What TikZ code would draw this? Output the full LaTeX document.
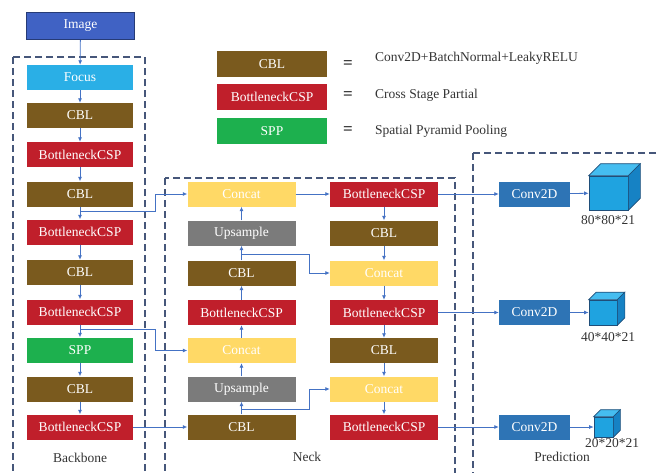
\documentclass[tikz,border=0pt]{standalone}
\usepackage{fontspec}
\setmainfont{Liberation Serif}
\usetikzlibrary{arrows.meta}
\definecolor{cblbrown}{HTML}{7A5A1E}
\definecolor{cspred}{HTML}{C01F2B}
\definecolor{sppgreen}{HTML}{1DB04E}
\definecolor{focusblue}{HTML}{2AAFE6}
\definecolor{imgblue}{HTML}{4062C4}
\definecolor{catyellow}{HTML}{FFD966}
\definecolor{upgray}{HTML}{7B7B7B}
\definecolor{convblue}{HTML}{2E74B5}
\definecolor{lineblue}{HTML}{4472C4}
\definecolor{dashgray}{HTML}{46577A}
\definecolor{cubefront}{HTML}{1FA3E0}
\definecolor{cubetop}{HTML}{45BDF0}
\definecolor{cubeside}{HTML}{1682C4}
\definecolor{cubeedge}{HTML}{1F4E79}
% top and side faces of a cube whose front face is node #1
\newcommand{\cubefaces}[2]{
  \filldraw[fill=cubetop, draw=cubeedge, line width=0.6pt] (#1.north west) -- ++(#2,-#2) -- ([shift={(#2,-#2)}]#1.north east) -- (#1.north east) -- cycle;
  \filldraw[fill=cubeside, draw=cubeedge, line width=0.6pt] (#1.north east) -- ([shift={(#2,-#2)}]#1.north east) -- ([shift={(#2,-#2)}]#1.south east) -- (#1.south east) -- cycle;
}

\begin{document}
\begin{tikzpicture}[x=1pt, y=-1pt,
    box/.style={minimum width=106pt, minimum height=25pt, inner sep=0pt, text=white, font=\fontsize{13.5}{15}\selectfont},
    cblbox/.style={box, fill=cblbrown},
    cspbox/.style={box, fill=cspred},
    sppbox/.style={box, fill=sppgreen},
    catbox/.style={box, fill=catyellow, minimum width=108pt},
    upbox/.style={box, fill=upgray, minimum width=108pt},
    convbox/.style={box, fill=convblue, minimum width=71pt},
    cubebox/.style={draw=cubeedge, fill=cubefront, line width=0.6pt, inner sep=0pt},
    lbl/.style={text=black!80, font=\fontsize{13.5}{15}\selectfont, inner sep=0pt},
    eqsign/.style={text=black!80, font=\fontsize{17}{18}\selectfont\bfseries, inner sep=0pt},
    arr/.style={draw=lineblue, line width=0.8pt, -{Latex[length=4.5pt,width=4pt]}},
    frame/.style={draw=dashgray, line width=1.3pt, dash pattern=on 7pt off 4pt}]
    \useasboundingbox (0,0) rectangle (659,472);
    % dashed frames
    \draw[frame] (13,57) rectangle (145,495);
    \draw[frame] (165,178) rectangle (455,495);
    \draw[frame] (473,153) rectangle (690,495);
    \node[lbl] (bbname) at (80,458) {Backbone};
    \node[lbl] (neckname) at (307,457) {Neck};
    \node[lbl] (predname) at (562,457) {Prediction};
    % legend
    \node[cblbox, minimum width=110pt, minimum height=26pt] (legcbl) at (272,64) {CBL};
    \node[cspbox, minimum width=110pt, minimum height=26pt] (legcsp) at (272,96.5) {BottleneckCSP};
    \node[sppbox, minimum width=110pt, minimum height=26pt] (legspp) at (272,131) {SPP};
    \node[eqsign] (eq1) at (348,65) {=};
    \node[eqsign] (eq2) at (348,96) {=};
    \node[eqsign] (eq3) at (348,131) {=};
    \node[lbl, anchor=west] (legtxt1) at (375,58) {Conv2D+BatchNormal+LeakyRELU};
    \node[lbl, anchor=west] (legtxt2) at (375,95) {Cross Stage Partial};
    \node[lbl, anchor=west] (legtxt3) at (375,131) {Spatial Pyramid Pooling};
    % backbone
    \node[box, fill=imgblue, draw=imgblue!60!black, line width=1pt, minimum width=108pt, minimum height=27pt] (img) at (80.5,26) {Image};
    \node[box, fill=focusblue] (focus) at (80,77.5) {Focus};
    \node[cblbox] (bcbl1) at (80,115.5) {CBL};
    \node[cspbox] (bcsp1) at (80,154.5) {BottleneckCSP};
    \node[cblbox] (bcbl2) at (80,194) {CBL};
    \node[cspbox] (bcsp2) at (80,232) {BottleneckCSP};
    \node[cblbox] (bcbl3) at (80,272.5) {CBL};
    \node[cspbox] (bcsp3) at (80,312) {BottleneckCSP};
    \node[sppbox] (spp) at (80,350) {SPP};
    \node[cblbox] (bcbl4) at (80,389) {CBL};
    \node[cspbox] (bcsp4) at (80,427) {BottleneckCSP};
    % neck, left column
    \node[catbox] (lcat1) at (241.5,194) {Concat};
    \node[upbox] (lup1) at (241.5,233) {Upsample};
    \node[cblbox, minimum width=108pt] (lcbl1) at (241.5,273) {CBL};
    \node[cspbox, minimum width=108pt] (lcsp1) at (241.5,312.5) {BottleneckCSP};
    \node[catbox] (lcat2) at (241.5,350.5) {Concat};
    \node[upbox] (lup2) at (241.5,389) {Upsample};
    \node[cblbox, minimum width=108pt] (lcbl2) at (241.5,427) {CBL};
    % neck, right column
    \node[cspbox, minimum width=108pt] (rcsp1) at (384,194) {BottleneckCSP};
    \node[cblbox, minimum width=108pt] (rcbl1) at (384,233) {CBL};
    \node[catbox] (rcat1) at (384,273) {Concat};
    \node[cspbox, minimum width=108pt] (rcsp2) at (384,312.5) {BottleneckCSP};
    \node[cblbox, minimum width=108pt] (rcbl2) at (384,350.5) {CBL};
    \node[catbox] (rcat2) at (384,389) {Concat};
    \node[cspbox, minimum width=108pt] (rcsp3) at (384,427) {BottleneckCSP};
    % prediction
    \node[convbox] (conv1) at (534.5,194) {Conv2D};
    \node[convbox] (conv2) at (534.5,312.5) {Conv2D};
    \node[convbox] (conv3) at (534.5,427) {Conv2D};
    \node[cubebox, minimum width=39pt, minimum height=34pt] (cube1) at (608.5,193) {};
    \node[cubebox, minimum width=28pt, minimum height=25pt] (cube2) at (603,312.5) {};
    \node[cubebox, minimum width=19pt, minimum height=20pt] (cube3) at (603.5,427) {};
    \cubefaces{cube1}{12}
    \cubefaces{cube2}{7.5}
    \cubefaces{cube3}{7}
    \node[lbl] (size1) at (608,220) {80*80*21};
    \node[lbl] (size2) at (608,337) {40*40*21};
    \node[lbl] (size3) at (612,443) {20*20*21};
    % backbone arrows
    \draw[arr] (img) -- (focus);
    \draw[arr] (focus) -- (bcbl1);
    \draw[arr] (bcbl1) -- (bcsp1);
    \draw[arr] (bcsp1) -- (bcbl2);
    \draw[arr] (bcbl2) -- (bcsp2);
    \draw[arr] (bcsp2) -- (bcbl3);
    \draw[arr] (bcbl3) -- (bcsp3);
    \draw[arr] (bcsp3) -- (spp);
    \draw[arr] (spp) -- (bcbl4);
    \draw[arr] (bcbl4) -- (bcsp4);
    % backbone to neck
    \coordinate (tap1) at (80,211);
    \coordinate (tap2) at (80,329);
    \draw[arr] (tap1) -- ++(75,0) |- (lcat1);
    \draw[arr] (tap2) -- ++(75,0) |- (lcat2);
    \draw[arr] (bcsp4) -- (lcbl2);
    % neck arrows
    \draw[arr] (lcbl2) -- (lup2);
    \draw[arr] (lup2) -- (lcat2);
    \draw[arr] (lcat2) -- (lcsp1);
    \draw[arr] (lcsp1) -- (lcbl1);
    \draw[arr] (lcbl1) -- (lup1);
    \draw[arr] (lup1) -- (lcat1);
    \draw[arr] (lcat1) -- (rcsp1);
    \draw[arr] (rcsp1) -- (rcbl1);
    \draw[arr] (rcbl1) -- (rcat1);
    \draw[arr] (rcat1) -- (rcsp2);
    \draw[arr] (rcsp2) -- (rcbl2);
    \draw[arr] (rcbl2) -- (rcat2);
    \draw[arr] (rcat2) -- (rcsp3);
    \coordinate (tap3) at (241.5,254);
    \coordinate (tap4) at (241.5,409);
    \draw[arr] (tap3) -- ++(68,0) |- (rcat1);
    \draw[arr] (tap4) -- ++(68,0) |- (rcat2);
    % neck to prediction
    \draw[arr] (rcsp1) -- (conv1);
    \draw[arr] (rcsp2) -- (conv2);
    \draw[arr] (rcsp3) -- (conv3);
    \draw[arr] (conv1) -- (cube1);
    \draw[arr] (conv2) -- (cube2);
    \draw[arr] (conv3) -- (cube3);
\end{tikzpicture}
\end{document}
